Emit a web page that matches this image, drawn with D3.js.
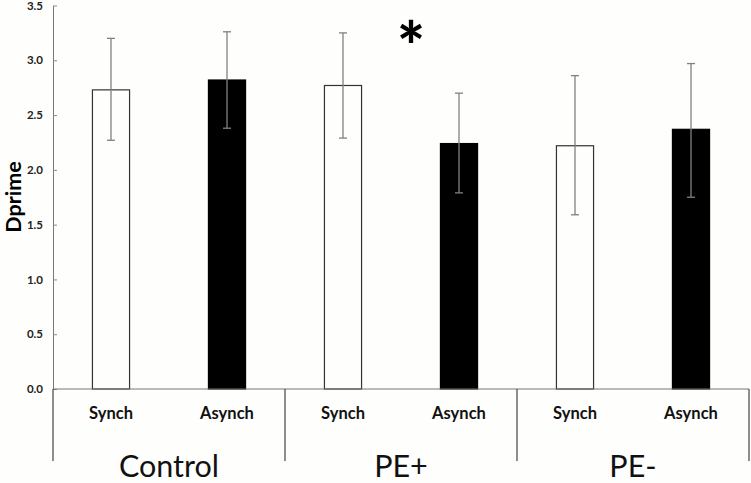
<!DOCTYPE html>
<html><head><meta charset="utf-8">
<script src="https://cdn.jsdelivr.net/npm/d3@7"></script>
<style>body{margin:0;background:#fefefc;} svg{display:block;}</style>
</head><body>
<svg id="c" width="751" height="483"></svg>
<script>
const groups = ["Control", "PE+", "PE-"];
const conditions = ["Synch", "Asynch"];
const means = [2.73, 2.82, 2.77, 2.24, 2.22, 2.37];
const errLow = [2.27, 2.38, 2.29, 1.79, 1.59, 1.75];
const errHigh = [3.20, 3.26, 3.25, 2.70, 2.86, 2.97];
const yTicks = [0, 0.5, 1.0, 1.5, 2.0, 2.5, 3.0, 3.5];
const yLabel = "Dprime";
const sigMark = "*";

(function () {
const font = "Lato, 'Open Sans', sans-serif";
const svg = d3.select("#c");
const mLeft = 53, mRight = 749, mTop = 5.5, mBottom = 389;
const y = d3.scaleLinear().domain([0, 3.5]).range([mBottom, mTop]);
const bars = [];
groups.forEach((g, gi) => conditions.forEach((c, ci) => bars.push({g, c, i: gi * 2 + ci})));
const x = d3.scaleBand().domain(bars.map(b => b.i)).range([mLeft, mRight]).paddingInner(0.68).paddingOuter(0.34);
const gx = d3.scaleBand().domain(groups).range([mLeft, mRight]);

// y axis
const yAxis = d3.axisLeft(y).tickValues(yTicks).tickFormat(d3.format(".1f")).tickSizeInner(-4).tickSizeOuter(0).tickPadding(10);
const ya = svg.append("g").attr("transform", `translate(${mLeft},0)`).call(yAxis);
ya.select(".domain").attr("stroke", "#777");
ya.selectAll(".tick line").attr("stroke", "#888");
ya.selectAll(".tick text").attr("font-family", font).attr("font-weight", "bold").attr("font-size", 11.5).attr("fill", "#222");

// bars
svg.append("g").selectAll("rect").data(bars).join("rect")
  .attr("x", d => x(d.i)).attr("width", x.bandwidth())
  .attr("y", d => y(means[d.i])).attr("height", d => y(0) - y(means[d.i]))
  .attr("fill", d => d.c === "Synch" ? "#fefefc" : "#000")
  .attr("stroke", d => d.c === "Synch" ? "#333" : "#000").attr("stroke-width", 1.2);

// error bars
const eb = svg.append("g").attr("stroke", "#808080").attr("stroke-width", 1.3);
bars.forEach(d => {
  const cx = x(d.i) + x.bandwidth() / 2;
  eb.append("line").attr("x1", cx).attr("x2", cx).attr("y1", y(errLow[d.i])).attr("y2", y(errHigh[d.i]));
  eb.append("line").attr("x1", cx - 4).attr("x2", cx + 4).attr("y1", y(errLow[d.i])).attr("y2", y(errLow[d.i]));
  eb.append("line").attr("x1", cx - 4).attr("x2", cx + 4).attr("y1", y(errHigh[d.i])).attr("y2", y(errHigh[d.i]));
});

// x axis base and group separators
const ax = svg.append("g").attr("stroke", "#777").attr("stroke-width", 1.2);
ax.append("line").attr("x1", mLeft).attr("x2", mRight).attr("y1", mBottom).attr("y2", mBottom);
groups.forEach(g => {
  ax.append("line").attr("x1", gx(g)).attr("x2", gx(g)).attr("y1", mBottom).attr("y2", 461).attr("stroke", "#444");
});
ax.append("line").attr("x1", mRight).attr("x2", mRight).attr("y1", mBottom).attr("y2", 461).attr("stroke", "#444");

// condition labels
svg.append("g").selectAll("text").data(bars).join("text")
  .attr("x", d => x(d.i) + x.bandwidth() / 2).attr("y", 419)
  .attr("text-anchor", "middle").attr("font-family", font).attr("font-weight", "bold").attr("font-size", 16.5).attr("fill", "#111")
  .text(d => d.c);

// group labels
svg.append("g").selectAll("text").data(groups).join("text")
  .attr("x", g => gx(g) + gx.bandwidth() / 2).attr("y", 477)
  .attr("text-anchor", "middle").attr("font-family", font).attr("font-size", 30.5).attr("fill", "#111")
  .text(g => g);

// y label
svg.append("text").attr("transform", "translate(21,197) rotate(-90)")
  .attr("text-anchor", "middle").attr("font-family", font).attr("font-weight", "bold").attr("font-size", 21.5).attr("fill", "#000")
  .text(yLabel);

// significance mark
svg.append("text").attr("x", 411).attr("y", 71).attr("text-anchor", "middle")
  .attr("font-family", font).attr("font-weight", 900).attr("font-size", 66).attr("fill", "#000")
  .text(sigMark);
})();
</script>
</body></html>
